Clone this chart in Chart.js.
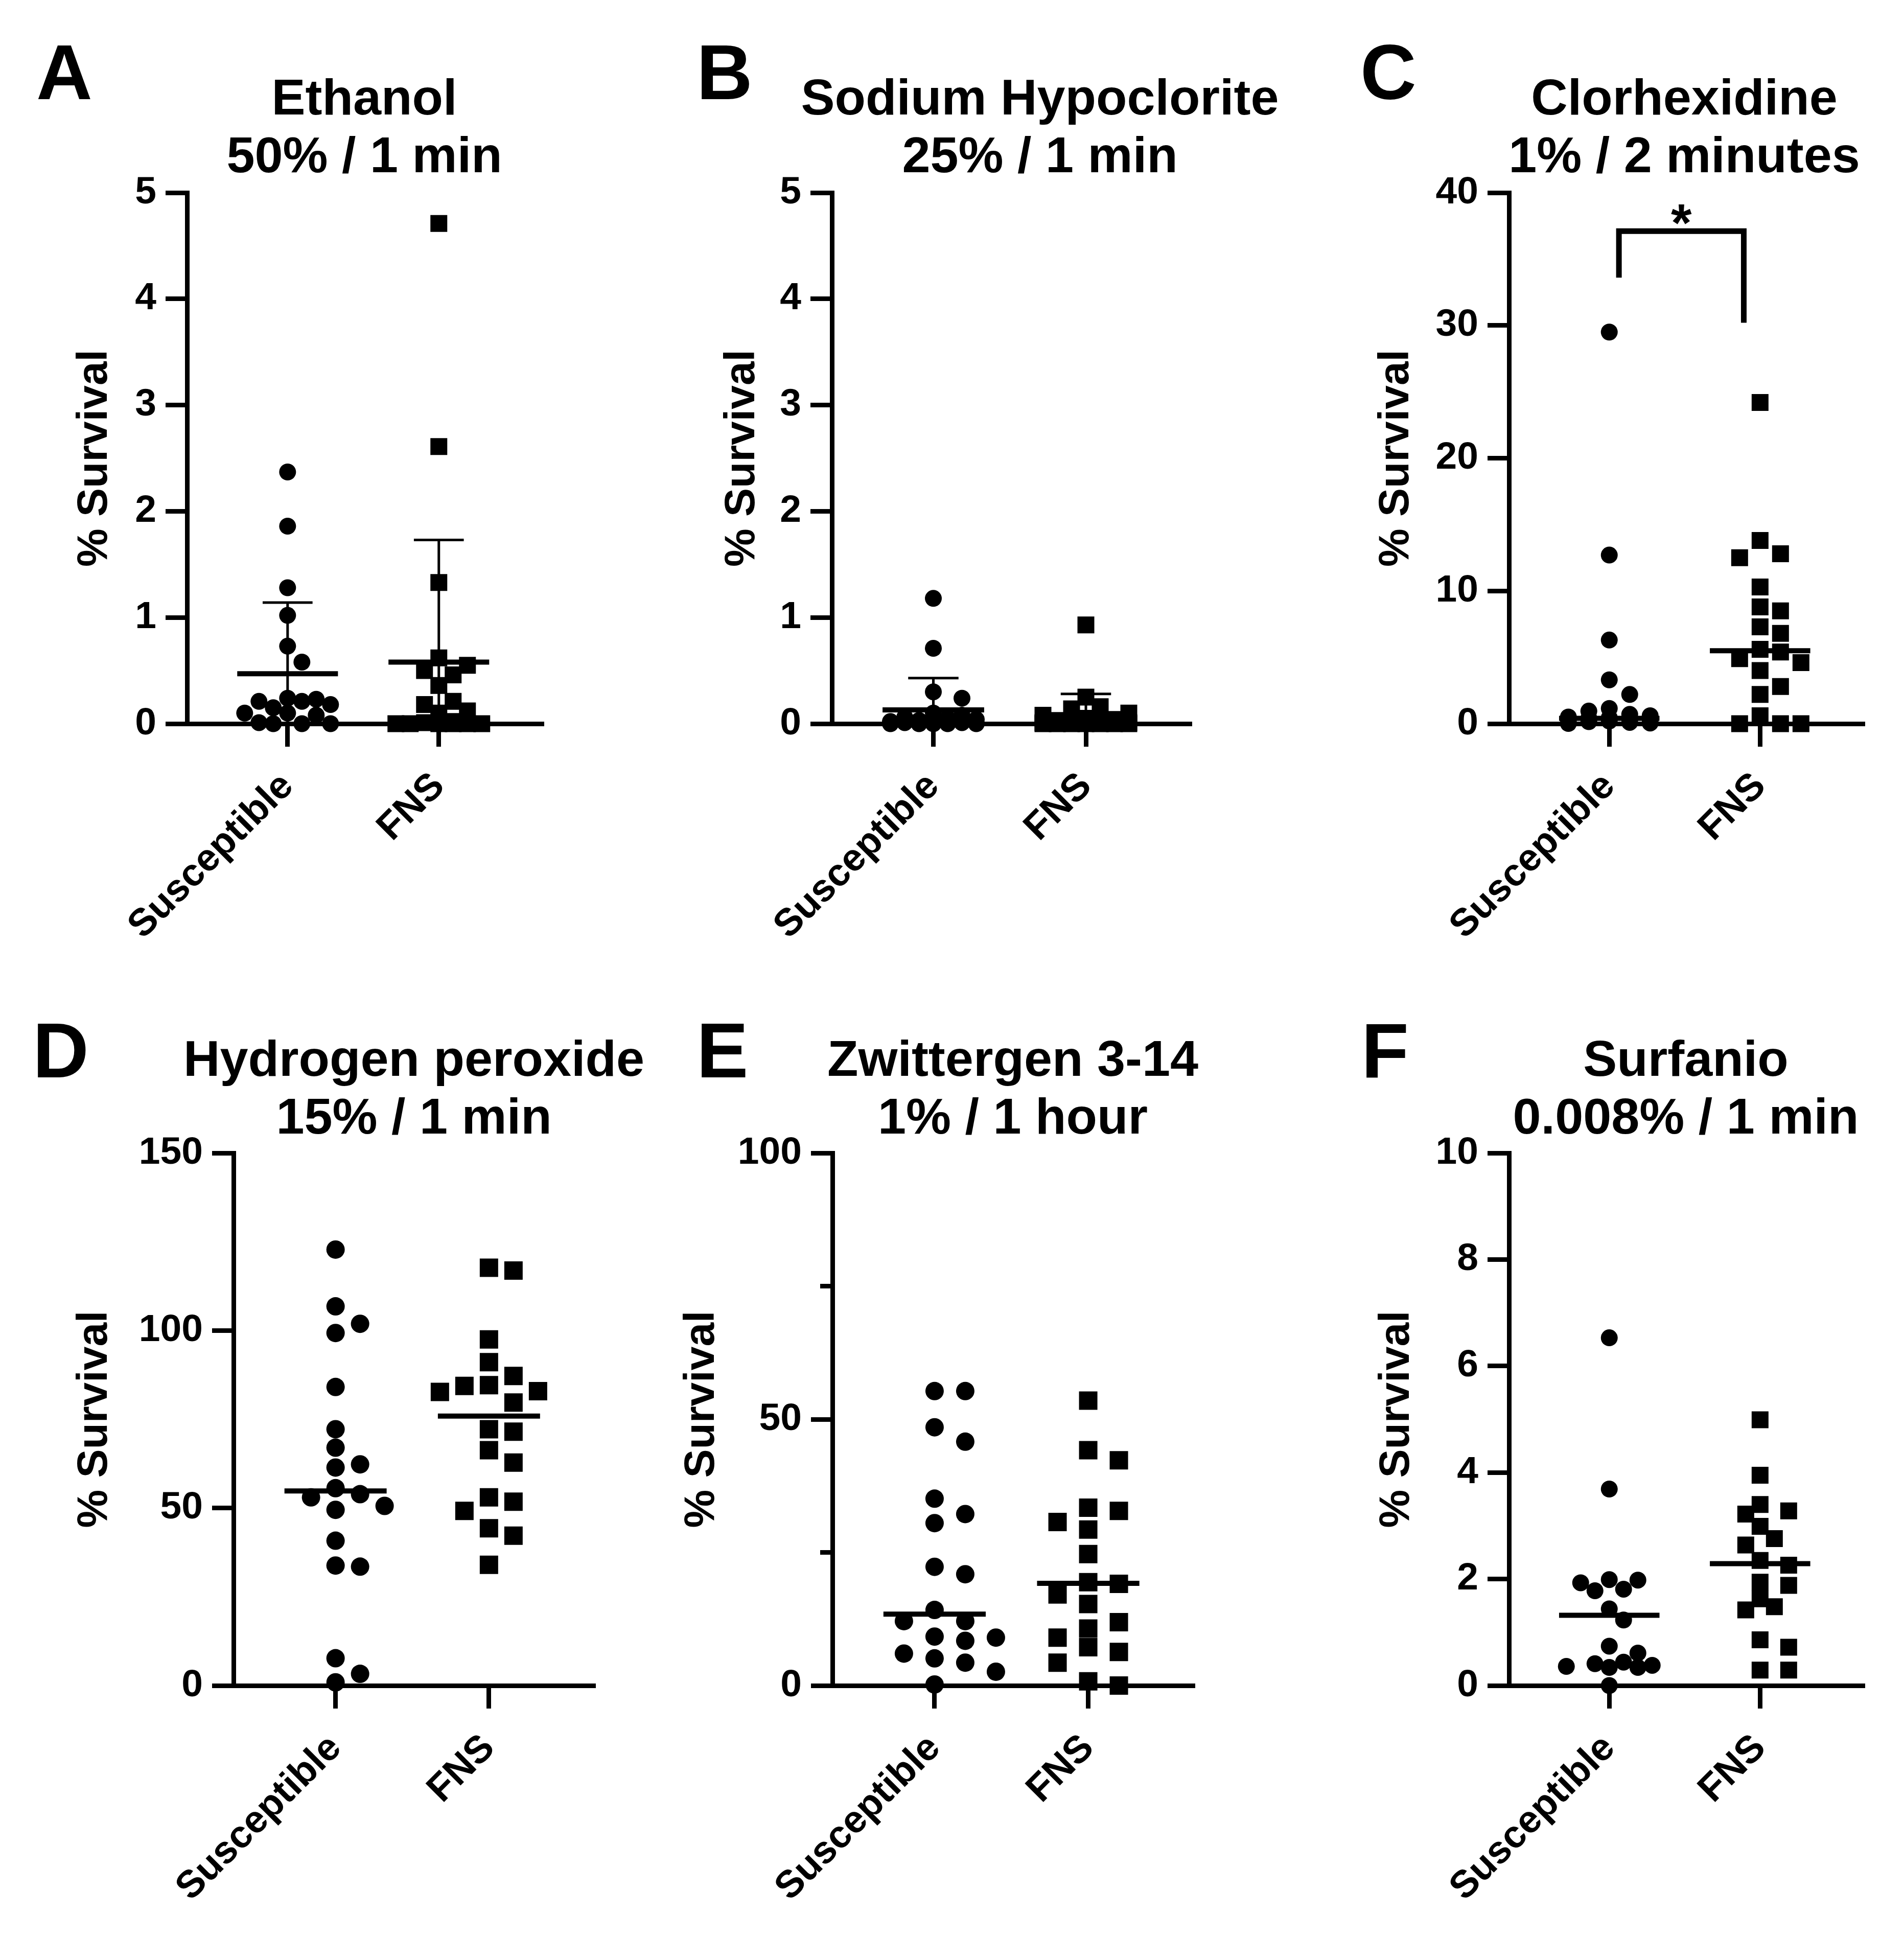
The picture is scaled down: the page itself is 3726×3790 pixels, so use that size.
<!DOCTYPE html>
<html><head><meta charset="utf-8">
<script src="https://cdn.jsdelivr.net/npm/chart.js@4.4.1/dist/chart.umd.min.js"></script>
<style>
html,body{margin:0;padding:0;background:#fff;}
#page{position:relative;width:3726px;height:3790px;background:#fff;overflow:hidden;}
.lbl{position:absolute;font-family:'Liberation Sans',Arial,Helvetica,sans-serif;font-weight:bold;color:#000;white-space:nowrap;z-index:2;}
.letter{font-size:152px;line-height:152px;}
.title{font-size:99px;line-height:113px;text-align:center;width:1400px;}
canvas{position:absolute;z-index:1;}
</style></head><body><div id="page"></div>
<script>
// ---------------- data ----------------
const categories = ['Susceptible', 'FNS'];
const yAxisTitle = '% Survival';

// A: Ethanol 50% / 1 min  (mean ± SD)
const ethanolSusc = [2.37, 1.86, 1.28, 1.02, 0.73, 0.58, 0.24, 0.23, 0.21, 0.21, 0.18, 0.15, 0.10, 0.10, 0.08, 0.01, 0.0, 0.0, 0.0];
const ethanolFNS  = [4.71, 2.61, 1.33, 0.62, 0.55, 0.50, 0.46, 0.36, 0.21, 0.18, 0.12, 0.10, 0.02, 0.01, 0.0, 0.0, 0.0, 0.0, 0.0, 0.0];
const ethanolMean = [0.47, 0.58];
const ethanolSD   = [0.67, 1.15];

// B: Sodium Hypoclorite 25% / 1 min  (mean ± SD)
const hypoSusc = [1.18, 0.71, 0.30, 0.24, 0.10, 0.08, 0.06, 0.05, 0.04, 0.03, 0.02, 0.02, 0.01, 0.01, 0.01, 0.0, 0.0, 0.0, 0.0, 0.0];
const hypoFNS  = [0.93, 0.25, 0.16, 0.14, 0.10, 0.08, 0.05, 0.04, 0.03, 0.02, 0.02, 0.01, 0.01, 0.0, 0.0, 0.0, 0.0, 0.0, 0.0, 0.0];
const hypoMean = [0.13, 0.08];
const hypoSD   = [0.30, 0.20];

// C: Clorhexidine 1% / 2 minutes  (median)
const chxSusc = [29.5, 12.7, 6.3, 3.3, 2.2, 1.15, 0.95, 0.7, 0.6, 0.5, 0.45, 0.4, 0.35, 0.3, 0.25, 0.2, 0.15, 0.1, 0.05, 0.02];
const chxFNS  = [24.2, 13.8, 12.8, 12.5, 10.3, 8.8, 8.5, 7.3, 6.8, 5.6, 5.4, 4.9, 4.6, 4.0, 2.8, 2.2, 0.6, 0.0, 0.0, 0.0];
const chxMedian = [0.4, 5.5];
const chxBracket = [33.6, 37.1, 30.2];   // left leg end, bar, right leg end
const chxSignif = '*';

// D: Hydrogen peroxide 15% / 1 min  (median)
const h2o2Susc = [122.8, 106.8, 101.9, 99.3, 84.1, 72.2, 67.0, 62.3, 61.4, 55.6, 53.9, 53.0, 50.6, 49.5, 40.8, 33.8, 33.5, 7.7, 3.3, 0.9];
const h2o2FNS  = [117.7, 116.9, 97.5, 91.1, 87.2, 84.6, 84.4, 82.9, 82.7, 79.7, 72.2, 71.5, 66.3, 62.8, 53.0, 51.8, 49.2, 44.3, 42.2, 34.0];
const h2o2Median = [54.8, 75.9];

// E: Zwittergen 3-14 1% / 1 hour  (median)
const zwitSusc = [55.3, 55.3, 48.5, 45.8, 35.1, 32.2, 30.5, 22.3, 20.9, 14.2, 12.1, 12.1, 9.2, 9.0, 8.4, 6.0, 5.1, 4.3, 2.6, 0.2];
const zwitFNS  = [53.5, 44.2, 42.3, 33.4, 32.8, 30.7, 29.3, 24.7, 19.4, 19.1, 17.1, 15.3, 11.9, 10.7, 9.0, 7.2, 6.3, 4.3, 0.8, 0.0];
const zwitMedian = [13.4, 19.2];
const zwitMinorTicks = [25, 75];

// F: Surfanio 0.008% / 1 min  (median)
const surfSusc = [6.53, 3.69, 1.99, 1.98, 1.93, 1.81, 1.78, 1.44, 1.23, 0.74, 0.61, 0.44, 0.41, 0.38, 0.36, 0.34, 0.34, 0.0];
const surfFNS  = [4.99, 3.95, 3.40, 3.28, 3.22, 2.99, 2.76, 2.64, 2.35, 2.26, 1.94, 1.88, 1.63, 1.48, 1.42, 0.86, 0.72, 0.29, 0.29];
const surfMedian = [1.32, 2.29];

const panelLetters = ['A', 'B', 'C', 'D', 'E', 'F'];
const panelTitles = [
  ['Ethanol', '50% / 1 min'],
  ['Sodium Hypoclorite', '25% / 1 min'],
  ['Clorhexidine', '1% / 2 minutes'],
  ['Hydrogen peroxide', '15% / 1 min'],
  ['Zwittergen 3-14', '1% / 1 hour'],
  ['Surfanio', '0.008% / 1 min']
];
const yMaxes = [5, 5, 40, 150, 100, 10];
const ySteps = [1, 1, 10, 50, 50, 2];

// ---------------- panel assembly ----------------
const panels = [
  {groups: [ethanolSusc, ethanolFNS], center: ethanolMean, sd: ethanolSD},
  {groups: [hypoSusc, hypoFNS], center: hypoMean, sd: hypoSD},
  {groups: [chxSusc, chxFNS], center: chxMedian, bracket: chxBracket, signif: chxSignif},
  {groups: [h2o2Susc, h2o2FNS], center: h2o2Median},
  {groups: [zwitSusc, zwitFNS], center: zwitMedian, minor: zwitMinorTicks},
  {groups: [surfSusc, surfFNS], center: surfMedian}
];

// ---------------- layout / style ----------------
const FONT = "'Liberation Sans', Arial, Helvetica, sans-serif";
const X_MIN = 0.335, X_MAX = 2.68;
const LINE_HALF = 0.333, CAP_HALF = 0.165;
const geom = [
  {canvas: [0, 280, 1240, 1620],    area: [366, 377, 1060, 1416],   titleX: 713,  titleTop: 133,  letterX: 71,   letterTop: 65,   yTitleX: 186,  step: 28, minDist: 32, maxOff: 90,  marker: 33},
  {canvas: [1240, 280, 1240, 1620], area: [1628, 377, 2328, 1416],  titleX: 2035, titleTop: 133,  letterX: 1363, letterTop: 65,   yTitleX: 1453, step: 28, minDist: 32, maxOff: 95,  marker: 33},
  {canvas: [2480, 280, 1246, 1620], area: [2953, 377, 3645, 1416],  titleX: 3296, titleTop: 133,  letterX: 2662, letterTop: 65,   yTitleX: 2733, step: 40, minDist: 34, maxOff: 90,  marker: 33},
  {canvas: [0, 2150, 1240, 1640],   area: [457, 2256, 1161, 3298],  titleX: 810,  titleTop: 2014, letterX: 64,   letterTop: 1979, yTitleX: 186,  step: 48, minDist: 36, maxOff: 100, marker: 36},
  {canvas: [1240, 2150, 1240, 1640],area: [1629, 2256, 2334, 3298], titleX: 1982, titleTop: 2014, letterX: 1363, letterTop: 1979, yTitleX: 1374, step: 60, minDist: 36, maxOff: 120, marker: 36},
  {canvas: [2480, 2150, 1246, 1640],area: [2953, 2256, 3645, 3298], titleX: 3299, titleTop: 2014, letterX: 2664, letterTop: 1979, yTitleX: 2734, step: 28, minDist: 32, maxOff: 90,  marker: 33}
];

const page = document.getElementById('page');

// greedy beeswarm: horizontal spread (px) so that markers avoid each other
function swarm(values, pxPerUnitY, step, minDist, maxOff) {
  const order = values.map((v, i) => i).sort((a, b) => values[b] - values[a]);
  const cands = [0];
  for (let k = 1; k * step <= maxOff + 0.01; k++) cands.push(k * step, -k * step);
  const placed = [];
  const offs = new Array(values.length).fill(0);
  for (const i of order) {
    const y = values[i] * pxPerUnitY;
    let best = 0, bestD = -1;
    for (const c of cands) {
      let dmin = Infinity;
      for (const p of placed) {
        const d = Math.hypot(c - p.x, y - p.y);
        if (d < dmin) dmin = d;
      }
      if (dmin >= minDist) { best = c; bestD = dmin; break; }
      if (dmin > bestD + 0.5) { bestD = dmin; best = c; }
    }
    offs[i] = best;
    placed.push({x: best, y});
  }
  return offs;
}

function lineDs(pts, w) {
  return {
    data: pts.map(([x, y]) => ({x, y})),
    showLine: true, borderColor: '#000', backgroundColor: '#000', borderWidth: w,
    pointRadius: 0, pointHoverRadius: 0, borderCapStyle: 'butt', borderJoinStyle: 'miter',
    fill: false, tension: 0, clip: false
  };
}

const extrasPlugin = {
  id: 'extras',
  afterDatasetsDraw(chart, args, opts) {
    const ctx = chart.ctx;
    const ys = chart.scales.y, xs = chart.scales.x;
    if (opts.minor) {
      ctx.save();
      ctx.strokeStyle = '#000'; ctx.lineWidth = 9; ctx.lineCap = 'butt';
      opts.minor.forEach(v => {
        const py = ys.getPixelForValue(v);
        ctx.beginPath(); ctx.moveTo(ys.right, py); ctx.lineTo(ys.right - 24, py); ctx.stroke();
      });
      ctx.restore();
    }
    if (opts.signif) {
      ctx.save();
      ctx.fillStyle = '#000';
      ctx.font = 'bold 104px ' + FONT;
      ctx.textAlign = 'center'; ctx.textBaseline = 'alphabetic';
      const px = xs.getPixelForValue(opts.signifX);
      const py = ys.getPixelForValue(opts.signifY) + 20;
      ctx.fillText(opts.signif, px, py);
      ctx.restore();
    }
  }
};

panels.forEach((p, idx) => {
  const g = geom[idx];
  const [cx, cy, cw, ch] = g.canvas;
  const [L, T, R, B] = g.area;
  const yMax = yMaxes[idx];

  // letter + title (HTML text)
  const le = document.createElement('div');
  le.className = 'lbl letter'; le.textContent = panelLetters[idx];
  le.style.left = g.letterX + 'px'; le.style.top = g.letterTop + 'px';
  page.appendChild(le);
  const te = document.createElement('div');
  te.className = 'lbl title';
  te.innerHTML = panelTitles[idx].map(s => s.replace(/&/g, '&amp;')).join('<br>');
  te.style.left = (g.titleX - 700) + 'px'; te.style.top = g.titleTop + 'px';
  page.appendChild(te);

  const cv = document.createElement('canvas');
  cv.width = cw; cv.height = ch;
  cv.style.left = cx + 'px'; cv.style.top = cy + 'px';
  cv.style.width = cw + 'px'; cv.style.height = ch + 'px';
  page.appendChild(cv);

  const pxY = (B - T) / yMax;
  const pxX = (R - L) / (X_MAX - X_MIN);
  const datasets = [];
  p.groups.forEach((vals, gi) => {
    const offs = swarm(vals, pxY, g.step, g.minDist, g.maxOff);
    const isCircle = gi === 0;
    datasets.push({
      data: vals.map((v, i) => ({x: gi + 1 + offs[i] / pxX, y: v})),
      pointStyle: isCircle ? 'circle' : 'rect',
      pointRadius: isCircle ? g.marker / 2 : g.marker / (2 * Math.SQRT1_2),
      pointHoverRadius: 0,
      backgroundColor: '#000', borderColor: '#000', borderWidth: 0,
      showLine: false, clip: false
    });
  });
  p.center.forEach((c, gi) => {
    const xc = gi + 1;
    datasets.push(lineDs([[xc - LINE_HALF, c], [xc + LINE_HALF, c]], 10));
    if (p.sd) {
      const top = c + p.sd[gi], bot = Math.max(0, c - p.sd[gi]);
      datasets.push(lineDs([[xc, bot], [xc, top]], 5));
      datasets.push(lineDs([[xc - CAP_HALF, top], [xc + CAP_HALF, top]], 5));
    }
  });
  let signifX = null;
  if (p.bracket) {
    const bx1 = 1.064, bx2 = 1.892;
    datasets.push(lineDs([[bx1, p.bracket[0]], [bx1, p.bracket[1]], [bx2, p.bracket[1]], [bx2, p.bracket[2]]], 11));
    signifX = (bx1 + bx2) / 2;
  }

  const tickFont = {family: FONT, size: 75, weight: 'bold'};
  new Chart(cv.getContext('2d'), {
    type: 'scatter',
    data: {datasets},
    plugins: [extrasPlugin],
    options: {
      responsive: false, maintainAspectRatio: false, animation: false, devicePixelRatio: 1,
      events: [],
      layout: {padding: {left: 0, top: T - cy, right: cx + cw - R, bottom: 0}},
      plugins: {
        legend: {display: false}, tooltip: {enabled: false}, title: {display: false},
        extras: {minor: p.minor || null, signif: p.signif || null, signifX, signifY: p.bracket ? p.bracket[1] : 0}
      },
      scales: {
        x: {
          type: 'linear', min: X_MIN, max: X_MAX,
          afterBuildTicks: s => { s.ticks = [{value: 1}, {value: 2}]; },
          afterFit: s => { s.height = cy + ch - B; },
          ticks: {
            callback: v => categories[Math.round(v) - 1] || '',
            font: tickFont, color: '#000', minRotation: 45, maxRotation: 45, padding: 34, autoSkip: false
          },
          grid: {display: true, drawOnChartArea: false, drawTicks: true, tickLength: 45, tickWidth: 9, tickColor: '#000', lineWidth: 9, color: '#000'},
          border: {display: true, width: 9, color: '#000'}
        },
        y: {
          type: 'linear', min: 0, max: yMax,
          afterFit: s => { s.width = L - cx; },
          ticks: {stepSize: ySteps[idx], font: tickFont, color: '#000', padding: 18, callback: v => String(v)},
          grid: {display: true, drawOnChartArea: false, drawTicks: true, tickLength: 42, tickWidth: 9, tickColor: '#000', lineWidth: 9, color: '#000'},
          border: {display: true, width: 9, color: '#000'},
          title: {display: true, text: yAxisTitle, color: '#000', font: {family: FONT, size: 84, weight: 'bold'}, padding: {top: g.yTitleX - cx - 50.4, bottom: 0}}
        }
      }
    }
  });
});
</script>
</body></html>
